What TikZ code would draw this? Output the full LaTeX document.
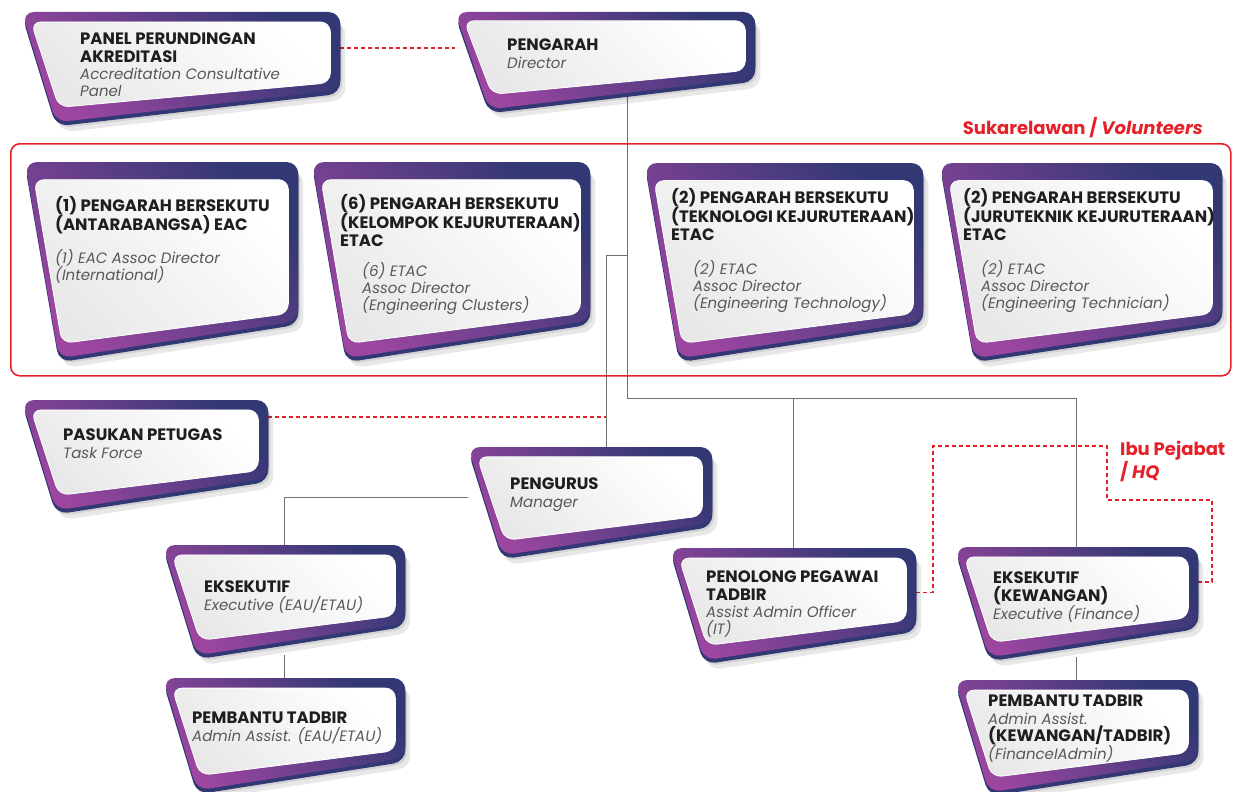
\documentclass[tikz,border=0pt]{standalone}
\usepackage{fontspec}
\setmainfont{Poppins}
\usetikzlibrary{positioning,calc}
\definecolor{cardpurple}{RGB}{156,70,160}
\definecolor{cardnavy}{RGB}{50,56,116}
\definecolor{cardink}{RGB}{30,30,32}
\definecolor{subink}{RGB}{88,88,92}
\definecolor{hqred}{RGB}{228,32,40}
\definecolor{linkgray}{RGB}{112,112,112}

\newcommand\en[1]{{\color{subink}\fontsize{15}{17.3}\selectfont\mdseries\itshape #1}}
\newcommand\drawcard[1]{%
  \foreach \dx/\dy/\look in {5pt/-10pt/cardshade,2pt/-6pt/cardshade,0pt/-4pt/cardbase,0pt/0pt/cardface}{
    \path[\look] let \p1=(#1.north west), \p2=(#1.south east), \n1={26+0.06*(\y1-\y2)} in
      (\x1+\dx,\y1+\dy) -- (\x2+\dx,\y1+\dy) -- (\x2+\dx,\y2+\n1+\dy) -- (\x1+34pt+\dx,\y2+\dy) -- cycle;
  }
  \path[cardpanel] let \p1=(#1.north west), \p2=(#1.south east), \n1={26+0.06*(\y1-\y2)}, \n2={0.09*(\y1-\y2)} in
    (\x1+9pt,\y1-\n2) -- (\x2-10pt,\y1-\n2) -- (\x2-10pt,\y2+\n1+7pt) -- (\x1+37pt,\y2+15pt) -- cycle;
}

\begin{document}
\begin{tikzpicture}[x=1pt,y=-1pt,
  frame/.style 2 args={rectangle,inner sep=0pt,anchor=north west,minimum width=#1pt,minimum height=#2pt},
  cardshade/.style={fill=black,fill opacity=.09,rounded corners=12pt},
  cardbase/.style={fill=cardnavy,rounded corners=12pt},
  cardface/.style={left color=cardpurple,right color=cardnavy,shading angle=135,rounded corners=12pt},
  cardpanel/.style={left color=gray!18,right color=white,shading angle=135,draw=white,line width=.8pt,rounded corners=10pt},
  title/.style={font=\fontsize{16.5}{17.3}\selectfont\bfseries,text=cardink,align=left,inner sep=0pt,anchor=north west},
  sub/.style={title,font=\fontsize{15}{17.3}\selectfont\itshape,text=subink},
  link/.style={draw=linkgray,line width=1pt},
  hq/.style={draw=hqred,line width=1.3pt,dash pattern=on 4pt off 3pt},
  volbox/.style={rectangle,draw=hqred,line width=1.6pt,rounded corners=9pt,inner sep=0pt,anchor=north west},
  redlbl/.style={font=\fontsize{18}{17.5}\selectfont\bfseries,text=hqred,align=left,inner sep=0pt}]

  \useasboundingbox (0,0) rectangle (1234,792);

  % card outlines
  \node[frame={318}{110}] (panel) at (22,12) {};
  \node[frame={300}{97}] (dir) at (455,12) {};
  \node[frame={273}{196}] (vol1) at (25,162) {};
  \node[frame={278}{196}] (vol6) at (312,162) {};
  \node[frame={278}{195}] (vol2t) at (645,163) {};
  \node[frame={282}{195}] (vol2j) at (940,163) {};
  \node[frame={246}{110}] (task) at (22,400) {};
  \node[frame={244}{108}] (mgr) at (468,447) {};
  \node[frame={242}{110}] (exe) at (163,545) {};
  \node[frame={242}{112}] (adm) at (163,678) {};
  \node[frame={246}{112}] (pen) at (670,548) {};
  \node[frame={243}{110}] (exf) at (955,547) {};
  \node[frame={243}{112}] (admf) at (955,680) {};

  \coordinate (trunk) at (627,398);
  \coordinate (mgrjoin) at (606,255);
  \coordinate (hqa) at (933,446);
  \coordinate (hqb) at (1107,500);
  \coordinate (hqc) at (1212,582);

  % links
  \draw[link] (dir -| trunk) -- (trunk) -| (exf.north);
  \draw[link] (trunk -| pen.north) -- (pen.north);
  \draw[link] (mgrjoin -| trunk) -- (mgrjoin) -- (mgrjoin |- mgr.north);
  \draw[link] ([yshift=4pt]mgr.west) -| (exe.north);
  \draw[link] (exe) -- (adm.north);
  \draw[link] (exf) -- (admf.north);
  \draw[hq] ([yshift=-36pt]panel.north east) -- ([yshift=-36pt]dir.north west);
  \draw[hq] ([yshift=-17pt]task.north east) -- ([yshift=-17pt]task.north east -| mgrjoin);
  \draw[hq] ([yshift=12pt]pen.east) -| (hqa) -| (hqb) -| (hqc) -- (hqc -| exf.east);

  \foreach \c in {panel,dir,vol1,vol6,vol2t,vol2j,task,mgr,exe,adm,pen,exf,admf}
    \drawcard{\c};

  \node[volbox,minimum width=1220pt,minimum height=232pt] (vol) at (10,143) {};
  \node[redlbl,anchor=base east] (voltag) at (1203,134) {Sukarelawan / \textit{Volunteers}};
  \node[redlbl,anchor=north west] (hqtag) at (1120,441) {Ibu Pejabat\\/ \textit{HQ}};

  % texts
  \node[title,below right=21pt and 58pt of panel.north west] (panel-t) {PANEL PERUNDINGAN\\AKREDITASI\\\en{Accreditation Consultative}\\\en{Panel}};
  \node[title,below right=27pt and 52pt of dir.north west] (dir-t) {PENGARAH\\\en{Director}};
  \node[title,below right=34pt and 30pt of vol1.north west] (vol1-t) {(1) PENGARAH BERSEKUTU\\(ANTARABANGSA) EAC};
  \node[sub,below right=87pt and 30pt of vol1.north west] (vol1-s) {(1) EAC Assoc Director\\(International)};
  \node[title,below right=32pt and 28pt of vol6.north west] (vol6-t) {(6) PENGARAH BERSEKUTU\\(KELOMPOK KEJURUTERAAN)\\ETAC};
  \node[sub,below right=100pt and 50pt of vol6.north west] (vol6-s) {(6) ETAC\\Assoc Director\\(Engineering Clusters)};
  \node[title,below right=25pt and 26pt of vol2t.north west] (vol2t-t) {(2) PENGARAH BERSEKUTU\\(TEKNOLOGI KEJURUTERAAN)\\ETAC};
  \node[sub,below right=97pt and 48pt of vol2t.north west] (vol2t-s) {(2) ETAC\\Assoc Director\\(Engineering Technology)};
  \node[title,below right=25pt and 23pt of vol2j.north west] (vol2j-t) {(2) PENGARAH BERSEKUTU\\(JURUTEKNIK KEJURUTERAAN)\\ETAC};
  \node[sub,below right=97pt and 41pt of vol2j.north west] (vol2j-s) {(2) ETAC\\Assoc Director\\(Engineering Technician)};
  \node[title,below right=29pt and 41pt of task.north west] (task-t) {PASUKAN PETUGAS\\\en{Task Force}};
  \node[title,below right=31pt and 42pt of mgr.north west] (mgr-t) {PENGURUS\\\en{Manager}};
  \node[title,below right=36pt and 41pt of exe.north west] (exe-t) {EKSEKUTIF\\\en{Executive (EAU/ETAU)}};
  \node[title,below right=34pt and 29pt of adm.north west] (adm-t) {PEMBANTU TADBIR\\\en{Admin Assist. (EAU/ETAU)}};
  \node[title,below right=23pt and 36pt of pen.north west] (pen-t) {PENOLONG PEGAWAI\\TADBIR\\\en{Assist Admin Officer}\\\en{(IT)}};
  \node[title,below right=25pt and 38pt of exf.north west] (exf-t) {EKSEKUTIF\\(KEWANGAN)\\\en{Executive (Finance)}};
  \node[title,below right=15pt and 33pt of admf.north west] (admf-t) {PEMBANTU TADBIR\\\en{Admin Assist.}\\(KEWANGAN/TADBIR)\\\en{(FinanceIAdmin)}};
\end{tikzpicture}
\end{document}
